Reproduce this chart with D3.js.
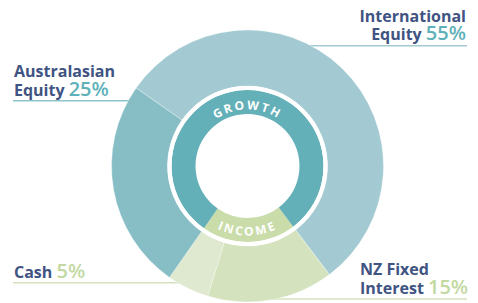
<!DOCTYPE html>
<html>
<head>
<meta charset="utf-8">
<script src="https://cdn.jsdelivr.net/npm/d3@7/dist/d3.min.js"></script>
<style>
  html, body { margin: 0; padding: 0; background: #fff; }
  svg { display: block; }
  text { font-family: "Open Sans", sans-serif; }
</style>
</head>
<body>
<svg id="chart" width="478" height="303"></svg>
<script>
// ---- data ----
const categories = ["International Equity", "NZ Fixed Interest", "Cash", "Australasian Equity"];
const values = [55, 15, 5, 25];
const labelLine1 = ["International", "NZ Fixed", "Cash", "Australasian"];
const labelLine2 = ["Equity", "Interest", "", "Equity"];
const groups = ["INCOME", "GROWTH"];
const groupValues = [20, 80];

// ---- styles ----
const segColors = ["#a3cad2", "#d4e2bd", "#dfe9cf", "#87bec6"];
const groupColors = ["#c9dca9", "#64b0b8"];
const pctColors = ["#5fb1b9", "#c3d9a2", "#c3d9a2", "#5fb1b9"];
const lineColors = ["#a3cad2", "#d4e2bd", "#d4e2bd", "#8fc3ca"];
const navy = "#3f5482";

const svg = d3.select("#chart");
const cx = 247.5, cy = 166;
const rOut = 136, rOutIn = 80;
const rInOut = 76, rInIn = 52;
const deg = Math.PI / 180;
const start = -55 * deg;

// leader lines (behind ring)
const lines = [
  {i: 0, y: 45.7, x1: 300, x2: 467},
  {i: 1, y: 299, x1: 270, x2: 467},
  {i: 2, y: 282.7, x1: 13, x2: 185},
  {i: 3, y: 100.7, x1: 13, x2: 140}
];
svg.append("g").selectAll("line").data(lines).join("line")
  .attr("x1", d => d.x1).attr("x2", d => d.x2)
  .attr("y1", d => d.y).attr("y2", d => d.y)
  .attr("stroke", d => lineColors[d.i]).attr("stroke-width", 1.5);

const g = svg.append("g").attr("transform", `translate(${cx},${cy})`);

// outer ring
const pie = d3.pie().sort(null).value(d => d).startAngle(start).endAngle(start + 2 * Math.PI);
const arcOut = d3.arc().innerRadius(rOutIn).outerRadius(rOut);
g.append("g").selectAll("path").data(pie(values)).join("path")
  .attr("d", arcOut)
  .attr("fill", (d, i) => segColors[i])
  .attr("stroke", "rgba(255,255,255,0.55)")
  .attr("stroke-width", 0.6);

// inner ring: income starts where international ends
const innerStart = start + (values[0] / d3.sum(values)) * 2 * Math.PI;
const pieIn = d3.pie().sort(null).value(d => d).startAngle(innerStart).endAngle(innerStart + 2 * Math.PI);
const arcIn = d3.arc().innerRadius(rInIn).outerRadius(rInOut);
g.append("g").selectAll("path").data(pieIn(groupValues)).join("path")
  .attr("d", arcIn)
  .attr("fill", (d, i) => groupColors[i]);
g.append("circle").attr("r", rInOut + 2).attr("fill", "none")
  .attr("stroke", "#fff").attr("stroke-width", 4);

// curved group labels
const defs = svg.append("defs");
function pt(r, a) { return [r * Math.sin(a) + cx, -r * Math.cos(a) + cy]; }
// GROWTH along top, clockwise
{
  const r = 56.5, p0 = pt(r, -90 * deg), p1 = pt(r, 90 * deg);
  defs.append("path").attr("id", "growthPath")
    .attr("d", `M${p0[0]},${p0[1]} A${r},${r} 0 0 1 ${p1[0]},${p1[1]}`);
}
// INCOME along bottom, counterclockwise (left to right)
{
  const r = 69.5, p0 = pt(r, 270 * deg), p1 = pt(r, 90 * deg);
  defs.append("path").attr("id", "incomePath")
    .attr("d", `M${p0[0]},${p0[1]} A${r},${r} 0 0 0 ${p1[0]},${p1[1]}`);
}
[["growthPath", groups[1]], ["incomePath", groups[0]]].forEach(([id, t]) => {
  svg.append("text")
    .attr("fill", "#fff")
    .attr("font-size", 12)
    .attr("font-weight", 700)
    .attr("letter-spacing", 2.2)
    .append("textPath")
    .attr("href", "#" + id)
    .attr("startOffset", "50%")
    .attr("text-anchor", "middle")
    .text(t);
});

// outer labels
const labels = [
  {i: 0, x: 466, y1: 22, y2: 39.5, anchor: "end"},
  {i: 1, x: 360, y1: 275, y2: 294, anchor: "start"},
  {i: 2, x: 14, y1: null, y2: 277.7, anchor: "start"},
  {i: 3, x: 14, y1: 77, y2: 96, anchor: "start"}
];
const lab = svg.append("g");
labels.forEach(L => {
  const t = lab.append("text")
    .attr("text-anchor", L.anchor)
    .attr("font-size", 16).attr("font-weight", 700).attr("fill", navy);
  let word;
  if (L.y1 !== null) {
    t.append("tspan").attr("x", L.x).attr("y", L.y1).text(labelLine1[L.i]);
    word = labelLine2[L.i];
  } else {
    word = labelLine1[L.i];
  }
  t.append("tspan").attr("x", L.x).attr("y", L.y2).text(word + " ");
  t.append("tspan").attr("font-size", 20).attr("font-weight", 600)
    .attr("fill", pctColors[L.i]).text(values[L.i] + "%");
});
</script>
</body>
</html>
